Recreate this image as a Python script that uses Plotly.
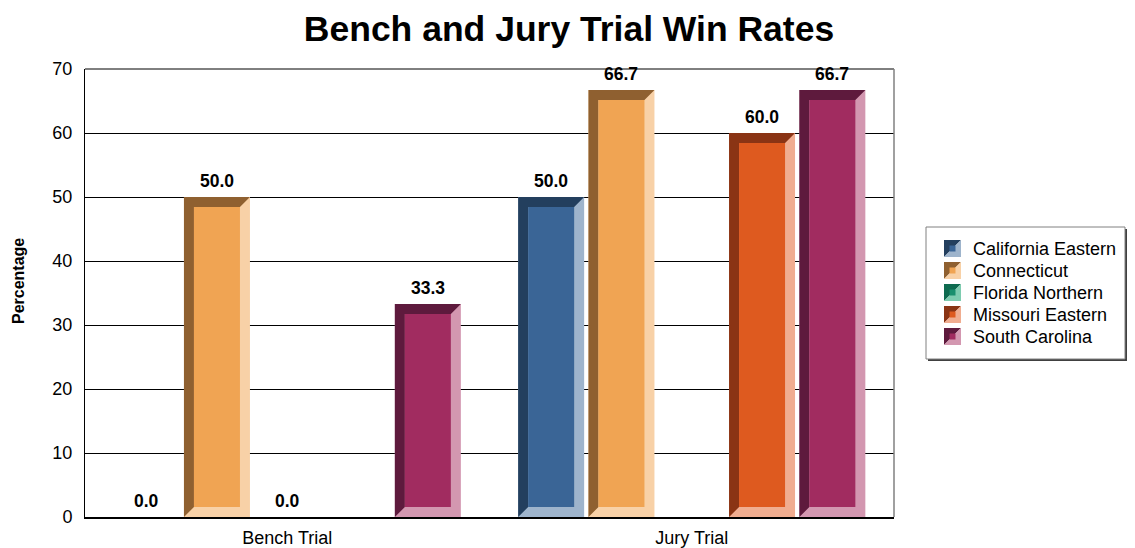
import plotly.graph_objects as go

# ---------------- data ----------------
categories = ["Bench Trial", "Jury Trial"]
series_names = ["California Eastern", "Connecticut", "Florida Northern",
                "Missouri Eastern", "South Carolina"]
california_eastern = [0.0, 50.0]
connecticut = [50.0, 66.7]
florida_northern = [0.0, None]
missouri_eastern = [None, 60.0]
south_carolina = [33.3, 66.7]
series_values = [california_eastern, connecticut, florida_northern,
                 missouri_eastern, south_carolina]
y_ticks = [0, 10, 20, 30, 40, 50, 60, 70]
title_text = "Bench and Jury Trial Win Rates"
y_title = "Percentage"

# ---------------- style ----------------
face_colors = ["#3A6596", "#F0A453", "#1A8F6E", "#DE5A1F", "#A12C60"]
dark_colors = ["#233F5E", "#8F6030", "#0E6B50", "#8A3414", "#5E1A3D"]
light_colors = ["#9EB4CC", "#F8D1A7", "#7ECCB0", "#F0AD90", "#D397B0"]
FONT = "Liberation Sans, Arial, sans-serif"

# page offset (default body margin of the html page)
OFF = 8
W, H = 1135, 548
# desired plot box on the page
PL, PR, PT, PB = 85, 894, 69, 517
ml, mt = PL - OFF, PT - OFF
mr, mb = W - (PR - OFF), H - (PB - OFF)
pw, ph = W - ml - mr, H - mt - mb
x_range = [-0.5, len(categories) - 0.5]
y_range = [0, 70]
px_x = pw / (x_range[1] - x_range[0])
px_y = ph / (y_range[1] - y_range[0])

slot = 70.3 / px_x
barw = 66.0 / px_x
bx = 10.0 / px_x
by = 10.0 / px_y
n = len(series_names)

fig = go.Figure()
shapes = []
annotations = []

xpos = list(range(len(categories)))
for i, (name, vals) in enumerate(zip(series_names, series_values)):
    off = (i - (n - 1) / 2) * slot - barw / 2
    fig.add_trace(go.Bar(
        x=xpos, y=vals, name=name, width=barw, offset=off,
        marker=dict(color=light_colors[i], line=dict(width=0)),
        showlegend=False, hoverinfo="y+name"))
    for j, v in enumerate(vals):
        if v is None:
            continue
        x0 = j + off
        x1 = x0 + barw
        y0, y1 = 0.0, v
        if v * px_y > 2 * 10:
            path = (f"M {x0},{y1} L {x1},{y1} L {x1-bx},{y1-by} L {x0+bx},{y1-by} "
                    f"L {x0+bx},{y0+by} L {x0},{y0} Z")
            shapes.append(dict(type="path", xref="x", yref="y", path=path,
                               fillcolor=dark_colors[i], line=dict(width=0),
                               layer="above"))
            shapes.append(dict(type="rect", xref="x", yref="y",
                               x0=x0 + bx, x1=x1 - bx, y0=y0 + by, y1=y1 - by,
                               fillcolor=face_colors[i], line=dict(width=0),
                               layer="above"))
        annotations.append(dict(x=j + off + barw / 2, y=v, xref="x", yref="y",
                                text=f"<b>{v:.1f}</b>", showarrow=False,
                                yanchor="bottom", yshift=4,
                                font=dict(family=FONT, size=17.5, color="black")))


def pxx(p):
    # page x pixel -> paper fraction
    return (p - OFF - ml) / pw


def pxy(p):
    # page y pixel -> paper fraction
    return (H - mb - (p - OFF)) / ph


# plot frame: top and right borders
shapes.append(dict(type="line", xref="paper", yref="paper", x0=0, x1=1, y0=1, y1=1,
                   line=dict(color="black", width=1)))
shapes.append(dict(type="line", xref="paper", yref="paper", x0=1, x1=1, y0=0, y1=1,
                   line=dict(color="#808080", width=1.5)))

# legend box with shadow
lx0, lx1, ly0, ly1 = 926, 1125, 227, 359
shapes.append(dict(type="rect", xref="paper", yref="paper",
                   x0=pxx(lx0 + 2), x1=pxx(lx1 + 2), y0=pxy(ly1 + 2), y1=pxy(ly0 + 2),
                   fillcolor="#404040", line=dict(width=0)))
shapes.append(dict(type="rect", xref="paper", yref="paper",
                   x0=pxx(lx0), x1=pxx(lx1), y0=pxy(ly1), y1=pxy(ly0),
                   fillcolor="white", line=dict(color="#808080", width=1)))
row0, row_step = 248.5, 22
icon = 17
ix0 = 944
for i, name in enumerate(series_names):
    cy = row0 + i * row_step
    t, b = cy - icon / 2, cy + icon / 2
    l, r = ix0, ix0 + icon
    dark_tri = f"M {pxx(l)},{pxy(t)} L {pxx(r)},{pxy(t)} L {pxx(l)},{pxy(b)} Z"
    light_tri = f"M {pxx(r)},{pxy(t)} L {pxx(r)},{pxy(b)} L {pxx(l)},{pxy(b)} Z"
    shapes.append(dict(type="path", xref="paper", yref="paper", path=dark_tri,
                       fillcolor=dark_colors[i], line=dict(width=0)))
    shapes.append(dict(type="path", xref="paper", yref="paper", path=light_tri,
                       fillcolor=light_colors[i], line=dict(width=0)))
    fs = 6
    shapes.append(dict(type="rect", xref="paper", yref="paper",
                       x0=pxx(l + (icon - fs) / 2), x1=pxx(l + (icon + fs) / 2),
                       y0=pxy(cy + fs / 2), y1=pxy(cy - fs / 2),
                       fillcolor=face_colors[i], line=dict(width=0)))
    annotations.append(dict(x=pxx(971), y=pxy(cy), xref="paper", yref="paper",
                            text=name, showarrow=False, xanchor="left",
                            yanchor="middle",
                            font=dict(family=FONT, size=18, color="black")))

# y axis title
annotations.append(dict(x=pxx(18), y=pxy(281), xref="paper", yref="paper",
                        text=f"<b>{y_title}</b>", showarrow=False, textangle=-90,
                        xanchor="center", yanchor="middle",
                        font=dict(family=FONT, size=16, color="black")))

fig.update_layout(
    template="none",
    width=W, height=H,
    margin=dict(l=ml, r=mr, t=mt, b=mb, pad=0, autoexpand=False),
    paper_bgcolor="white", plot_bgcolor="white",
    barmode="overlay",
    title=dict(text=f"<b>{title_text}</b>", x=(569 - OFF) / W, xanchor="center",
               y=1 - (29 - OFF) / H, yanchor="middle", yref="container",
               font=dict(family=FONT, size=35.5, color="black")),
    xaxis=dict(range=x_range, tickvals=xpos, ticktext=categories,
               showgrid=False, zeroline=False, showline=True, linecolor="black",
               linewidth=2, ticks="outside", ticklen=3, automargin=False,
               tickcolor="rgba(0,0,0,0)",
               tickfont=dict(family=FONT, size=18, color="black"), fixedrange=True),
    yaxis=dict(range=y_range, tickvals=y_ticks, showgrid=True, gridcolor="black",
               gridwidth=1, zeroline=False, showline=True, linecolor="black",
               linewidth=1, ticks="outside", ticklen=8, automargin=False,
               tickcolor="rgba(0,0,0,0)",
               tickfont=dict(family=FONT, size=18, color="black"), fixedrange=True),
    shapes=shapes,
    annotations=annotations,
    showlegend=False,
)

fig.write_html("out.html")
